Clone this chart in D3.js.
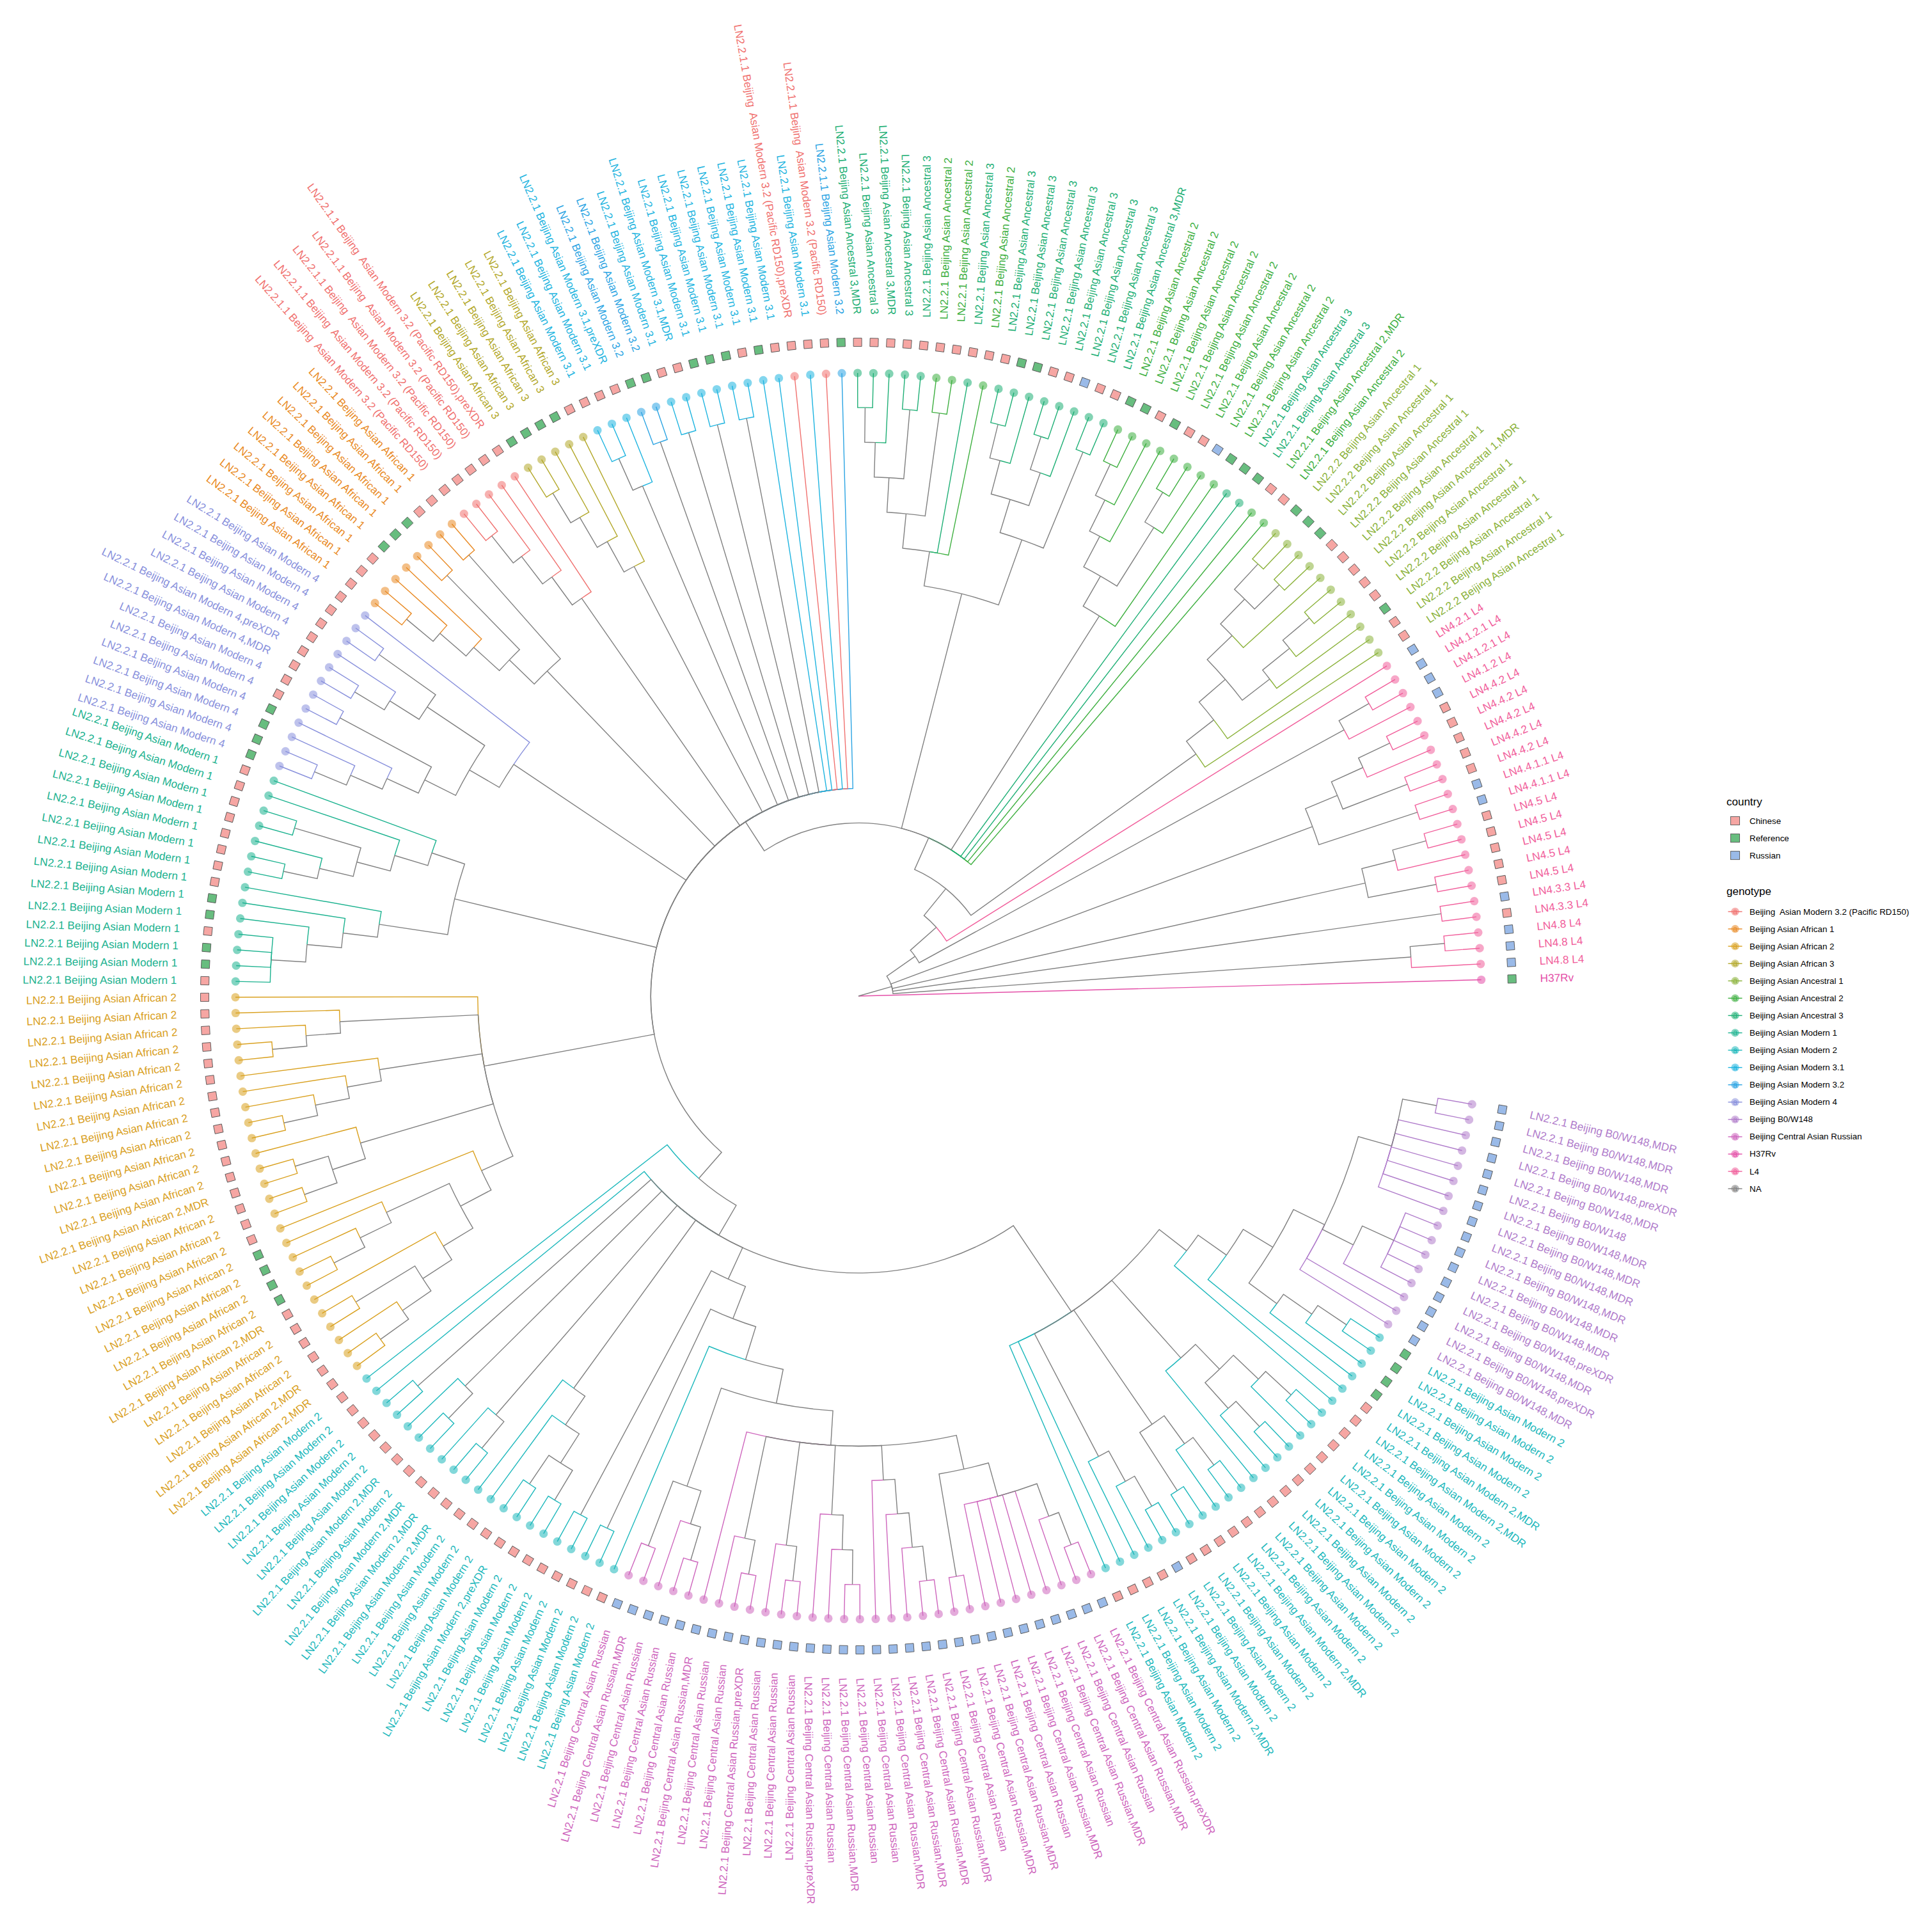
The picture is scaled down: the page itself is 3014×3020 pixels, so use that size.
<!DOCTYPE html>
<html>
<head>
<meta charset="utf-8">
<script src="https://cdn.jsdelivr.net/npm/d3@7"></script>
<style>
  body { margin: 0; background: #fff; }
  text { font-family: "Liberation Sans", Arial, sans-serif; white-space: pre; }
</style>
</head>
<body>
<div id="tree"></div>
<script>
// Legend values
var genotypes = ["Beijing  Asian Modern 3.2 (Pacific RD150)", "Beijing Asian African 1", "Beijing Asian African 2",
  "Beijing Asian African 3", "Beijing Asian Ancestral 1", "Beijing Asian Ancestral 2", "Beijing Asian Ancestral 3",
  "Beijing Asian Modern 1", "Beijing Asian Modern 2", "Beijing Asian Modern 3.1", "Beijing Asian Modern 3.2",
  "Beijing Asian Modern 4", "Beijing B0/W148", "Beijing Central Asian Russian", "H37Rv", "L4", "NA"];
var genotypeColors = ["#F0716F", "#E98A24", "#D9A01E", "#B3A82A", "#8BB23A", "#3DAF3F", "#1EAF75", "#1BB28F",
  "#1DB8BC", "#1EB4E0", "#2BA4E3", "#8890DC", "#B07CCB", "#CE66BD", "#E44FA8", "#F15E9B", "#808080"];
var countries = ["Chinese", "Reference", "Russian"];
var countryCodes = ["C", "R", "U"];
var countryColors = ["#F6A6A3", "#68BD7F", "#9ABAE8"];

// Tip labels going counter-clockwise from H37Rv: label, genotype index, one mark per tip
// (. plain, M ",MDR", P ",preXDR")
var A1 = "LN2.2.2 Beijing Asian Ancestral 1", A2 = "LN2.2.1 Beijing Asian Ancestral 2", A3 = "LN2.2.1 Beijing Asian Ancestral 3";
var RD = "LN2.2.1.1 Beijing  Asian Modern 3.2 (Pacific RD150)", M31 = "LN2.2.1 Beijing Asian Modern 3.1";
var tipGroups = [
  ["H37Rv", 14, "."],
  ["LN4.8 L4", 15, "..."], ["LN4.3.3 L4", 15, ".."], ["LN4.5 L4", 15, "....."], ["LN4.4.1.1 L4", 15, ".."],
  ["LN4.4.2 L4", 15, "....."], ["LN4.1.2 L4", 15, "."], ["LN4.1.2.1 L4", 15, ".."], ["LN4.2.1 L4", 15, "."],
  [A1, 4, ".....M....."],
  [A2, 5, ".M"], [A3, 6, ".."], [A2, 5, "........"], [A3, 6, "M......."],
  [A2, 5, "."], [A3, 6, "."], [A2, 5, ".."], [A3, 6, "..M.M"],
  ["LN2.2.1.1 Beijing Asian Modern 3.2", 10, "."], [RD, 0, "."], [M31, 9, "."], [RD, 0, "P"],
  [M31, 9, "......M."], ["LN2.2.1 Beijing Asian Modern 3.2", 10, ".."], [M31, 9, "P.."],
  ["LN2.2.1 Beijing Asian African 3", 3, "....."],
  [RD, 0, "P...."],
  ["LN2.2.1 Beijing Asian African 1", 1, "........"],
  ["LN2.2.1 Beijing Asian Modern 4", 11, "....PM......"],
  ["LN2.2.1 Beijing Asian Modern 1", 7, ".............."],
  ["LN2.2.1 Beijing Asian African 2", 2, "............M.......M...MM"],
  ["LN2.2.1 Beijing Asian Modern 2", 8, ".....M.MMM...P......."],
  ["LN2.2.1 Beijing Central Asian Russian", 13, ".M...M..P...P.M..MMMM.MM.M.M.MP"],
  ["LN2.2.1 Beijing Asian Modern 2", 8, "...M....M.........MM...."],
  ["LN2.2.1 Beijing B0/W148", 12, "MPMPMMMMMM.MPMMM"]
];

// Country of each tip, same order
var tipCountries = ["R", "UUUCUCCCCCUUCCCCCUUUU", "CCRCCCCCRRR", "CCRRRUCCRCRR", "CC", "UCC", "RRC", "CCCCCCCCC",
  "RCCCCR", "CRRRCCRR", "CCC", "CRRRR", "CCCCC", "CCRRRCCC", "CCCCCCCCRRRR", "CCCCCCCCRRCRRC",
  "CCCCCCCCCCCCCCCCRRRRCCCCCC", "CCCCCCCCCCCCCCCCCCCCC", "UUUUUUUUUUUUUUUUUUUUUUUUUUUUUUU",
  "CCCCUCCCCCCCCCCCCCCCRRRR", "UUUUUUUUUUUUUUUU"].join("");

// Tree topology, each dot is the next tip
var pink = "(((..)(.(..)))(.(.(..))(.(..))(.(.(..)))(.(.(.(..))))((..)(.....(.(..))))))";
var cladeEast = "(..(.(.(..)))((..)(.(..)))(.((.(..))(.(..))))(.(.((.(.(..)))(..(.(.....))(......(..)))))))";
var modern2 = "(.(.(..)(.(..))(.(..))(.(.((..)(..))))((..)((..)(." + pink + ")))" + cladeEast + "))";
var african2 = "(.(.(.(..)))(.(.(.(..))))(.((..)(..)))(.((.(.(..)))(.((..)(.(..)))))))";
var modern1 = "((.(.((..)(.(..)))))(.(.(.(....)))))";
var modern4 = "(.(((..)(.(..)))((..)(.(.(..)))))";
var african1 = "((..)((..)(.(.(..)))))";
var ladder4 = "(.(.(.(..))))";
var topFan = "(......(..)(..)(..)(..)(.(..))" + ladder4 + ladder4 + african1 + modern4 + ")" + modern1 + african2 + modern2 + ")";
var ancestral23 = "(.((.(..))(.(.(..)))))(((..)((.(..))(.(..))))(..((..)((..)(.(..))))))";
var ancestral1 = "(.(.((.(.(..)))(.((..)(..))))))";
var l4Low = "(.(..))(..)((..)(.(..)))((..)((..)(.(..))))";
var treeShape = "(.(" + l4Low + "((.(..))(.(" + ancestral1 + "(...." + ancestral23 + topFan + "))))))";

// Label rotation differs a little from the tip angle, read at several places round the ring
var tiltAngles = [0, 35, 50, 67, 92, 97, 105, 125, 141, 142.5, 150, 159, 160, 173, 179, 240, 260, 275, 300, 325, 348, 360];
var tiltValues = [0, 0, 2.5, 6, 5.5, 3.5, 1.5, 2, 3, 6, 6, 3.5, 1, 5, 1, 3, 5.5, 4, 4, 5, -3.5, -3.5];

// Chart area
var svgWidth = 3014, svgHeight = 3020;
var cx = 1342, cy = 1557;
var tipRadius = 974, tileRadius = 1022, labelRadius = 1066;
var grey = genotypeColors[16];

var svg = d3.select("#tree").append("svg").attr("width", svgWidth).attr("height", svgHeight);

// Expand the groups into one record per tip
var suffix = { ".": "", "M": ",MDR", "P": ",preXDR" };
var tips = [];
tipGroups.forEach(function(g) {
  g[2].split("").forEach(function(m) {
    tips.push({ label: g[0] + suffix[m], genotype: g[1], country: tipCountries[tips.length], index: tips.length });
  });
});

// Read the topology string
var pos = 0, nextTip = 0;
function parseNode() {
  var ch = treeShape[pos++];
  if (ch === ".") return { tip: tips[nextTip++], height: 0, children: [] };
  var node = { children: [] };
  while (treeShape[pos] !== ")") {
    node.children.push(parseNode());
  }
  pos++;
  node.height = d3.max(node.children, d => d.height) + 1;
  return node;
}
var root = parseNode();
if (nextTip !== tips.length || pos !== treeShape.length) {
  throw new Error("tree " + nextTip + " tips " + tips.length + " pos " + pos + "/" + treeShape.length);
}

// Scales: tip order to angle, node height to radius
var angle = d3.scaleLinear().domain([0, tips.length - 1]).range([1.5, 350]);
var radius = d3.scaleLinear().domain([root.height, 0]).range([0, tipRadius]);
var tilt = d3.scaleLinear().domain(tiltAngles).range(tiltValues);

function setAngle(node) {
  if (node.tip) node.angle = angle(node.tip.index);
  else {
    node.children.forEach(setAngle);
    node.angle = d3.mean(node.children, d => d.angle);
  }
}
setAngle(root);

function polar(r, deg) {
  var a = deg * Math.PI / 180;
  return [cx + r * Math.cos(a), cy - r * Math.sin(a)];
}

// One edge is an arc at the parent radius and a spoke out to the child
var edges = [];
function collect(node) {
  node.children.forEach(function(child) {
    edges.push({ parent: node, child: child });
    collect(child);
  });
}
collect(root);

function edgePath(d) {
  var rp = radius(d.parent.height), rc = radius(d.child.height);
  var a0 = -d.parent.angle * Math.PI / 180, a1 = -d.child.angle * Math.PI / 180;
  var start = polar(rp, d.parent.angle), end = polar(rc, d.child.angle);
  var p = d3.path();
  p.moveTo(start[0], start[1]);
  if (rp > 0) p.arc(cx, cy, rp, a0, a1, a1 < a0);
  p.lineTo(end[0], end[1]);
  return p.toString();
}

// Coloured tip edges first, the grey inner edges lie over them on shared arcs
svg.append("g").selectAll("path")
  .data(edges.filter(d => d.child.tip).concat(edges.filter(d => !d.child.tip)))
  .enter()
  .append("path")
  .attr("d", edgePath)
  .attr("fill", "none")
  .attr("stroke", d => d.child.tip ? genotypeColors[d.child.tip.genotype] : grey)
  .attr("stroke-width", 1.4);

// Tip points
svg.append("g").selectAll("circle")
  .data(tips)
  .enter()
  .append("circle")
  .attr("cx", d => polar(tipRadius, angle(d.index))[0])
  .attr("cy", d => polar(tipRadius, angle(d.index))[1])
  .attr("r", 6.6)
  .attr("fill", d => genotypeColors[d.genotype])
  .attr("fill-opacity", 0.55);

// Country tiles
var countryColor = d3.scaleOrdinal().domain(countryCodes).range(countryColors);
svg.append("g").selectAll("rect")
  .data(tips)
  .enter()
  .append("rect")
  .attr("x", -6.5)
  .attr("y", -6.5)
  .attr("width", 13)
  .attr("height", 13)
  .attr("transform", function(d) {
    var p = polar(tileRadius, angle(d.index));
    return `translate(${p[0]}, ${p[1]}) rotate(${-angle(d.index)})`;
  })
  .attr("fill", d => countryColor(d.country))
  .attr("stroke", "#555")
  .attr("stroke-width", 0.9);

// Tip labels
svg.append("g").selectAll("text")
  .data(tips)
  .enter()
  .append("text")
  .text(d => d.label)
  .attr("font-size", "17.2px")
  .attr("dominant-baseline", "central")
  .attr("fill", d => genotypeColors[d.genotype])
  .attr("text-anchor", function(d) {
    var dir = angle(d.index) + tilt(angle(d.index));
    return Math.cos(dir * Math.PI / 180) < 0 ? "end" : "start";
  })
  .attr("transform", function(d) {
    var a = angle(d.index), dir = a + tilt(a);
    var p = polar(labelRadius, a);
    var flip = Math.cos(dir * Math.PI / 180) < 0 ? 180 : 0;
    return `translate(${p[0]}, ${p[1]}) rotate(${-dir + flip})`;
  });

// Legends
var legendX = 2699, legendTextX = 2735, keyX = 2712.5;
var rowStep = 27.07;

svg.append("text").attr("x", legendX).attr("y", 1259).attr("font-size", "17px").text("country");
var countryRows = svg.append("g").selectAll("g")
  .data(countries)
  .enter()
  .append("g")
  .attr("transform", (d, i) => `translate(0, ${1283 + i * rowStep})`);
countryRows.append("rect")
  .attr("x", keyX - 7).attr("y", -6.5).attr("width", 14).attr("height", 13)
  .attr("fill", (d, i) => countryColors[i])
  .attr("stroke", "#555")
  .attr("stroke-width", 0.9);
countryRows.append("text")
  .attr("x", legendTextX).attr("dominant-baseline", "central")
  .attr("font-size", "13.4px").text(d => d);

svg.append("text").attr("x", legendX).attr("y", 1399).attr("font-size", "17px").text("genotype");
var genotypeRows = svg.append("g").selectAll("g")
  .data(genotypes)
  .enter()
  .append("g")
  .attr("transform", (d, i) => `translate(0, ${1425 + i * rowStep})`);
genotypeRows.append("line")
  .attr("x1", keyX - 11).attr("x2", keyX + 11)
  .attr("stroke", (d, i) => genotypeColors[i])
  .attr("stroke-width", 1.4);
genotypeRows.append("circle")
  .attr("cx", keyX).attr("r", 6.2)
  .attr("fill", (d, i) => genotypeColors[i])
  .attr("fill-opacity", 0.55);
genotypeRows.append("text")
  .attr("x", keyX).attr("text-anchor", "middle").attr("dominant-baseline", "central")
  .attr("font-size", "12px")
  .attr("fill", (d, i) => genotypeColors[i])
  .text("a");
genotypeRows.append("text")
  .attr("x", legendTextX).attr("dominant-baseline", "central")
  .attr("font-size", "13.4px").text(d => d);
</script>
</body>
</html>
